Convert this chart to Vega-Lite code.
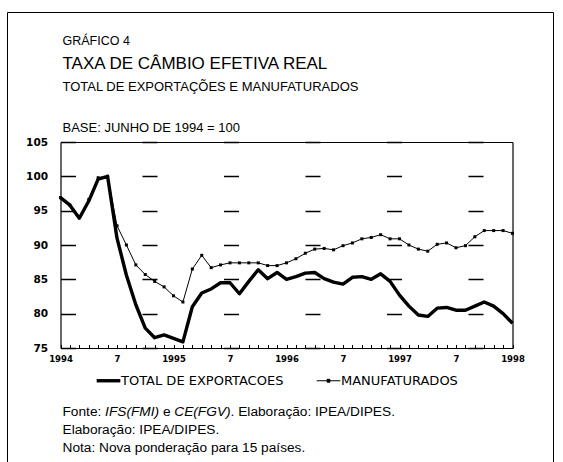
{
  "$schema": "https://vega.github.io/schema/vega-lite/v6.json",
  "width": 546,
  "height": 450,
  "autosize": "none",
  "padding": {"left": 7, "top": 12, "right": 10, "bottom": 0},
  "background": "white",
  "config": {
    "view": {"stroke": "black", "strokeWidth": 1},
    "axis": {"domainColor": "black", "tickColor": "black", "labelColor": "black", "titleColor": "black", "domainWidth": 1.2,
             "titleFont": "Liberation Sans", "titleFontWeight": "normal", "titleAngle": 0, "titleAlign": "left", "titleAnchor": "start", "titleBaseline": "alphabetic"}
  },
  "data": {"values": [
    {"mes": 0, "serie": "TOTAL DE EXPORTACOES", "valor": 96.9},
    {"mes": 1, "serie": "TOTAL DE EXPORTACOES", "valor": 95.8},
    {"mes": 2, "serie": "TOTAL DE EXPORTACOES", "valor": 93.9},
    {"mes": 3, "serie": "TOTAL DE EXPORTACOES", "valor": 96.4},
    {"mes": 4, "serie": "TOTAL DE EXPORTACOES", "valor": 99.6},
    {"mes": 5, "serie": "TOTAL DE EXPORTACOES", "valor": 100.0},
    {"mes": 6, "serie": "TOTAL DE EXPORTACOES", "valor": 91.0},
    {"mes": 7, "serie": "TOTAL DE EXPORTACOES", "valor": 85.6},
    {"mes": 8, "serie": "TOTAL DE EXPORTACOES", "valor": 81.3},
    {"mes": 9, "serie": "TOTAL DE EXPORTACOES", "valor": 77.9},
    {"mes": 10, "serie": "TOTAL DE EXPORTACOES", "valor": 76.5},
    {"mes": 11, "serie": "TOTAL DE EXPORTACOES", "valor": 76.9},
    {"mes": 12, "serie": "TOTAL DE EXPORTACOES", "valor": 76.4},
    {"mes": 13, "serie": "TOTAL DE EXPORTACOES", "valor": 75.9},
    {"mes": 14, "serie": "TOTAL DE EXPORTACOES", "valor": 81.0},
    {"mes": 15, "serie": "TOTAL DE EXPORTACOES", "valor": 83.0},
    {"mes": 16, "serie": "TOTAL DE EXPORTACOES", "valor": 83.6},
    {"mes": 17, "serie": "TOTAL DE EXPORTACOES", "valor": 84.5},
    {"mes": 18, "serie": "TOTAL DE EXPORTACOES", "valor": 84.5},
    {"mes": 19, "serie": "TOTAL DE EXPORTACOES", "valor": 82.9},
    {"mes": 20, "serie": "TOTAL DE EXPORTACOES", "valor": 84.7},
    {"mes": 21, "serie": "TOTAL DE EXPORTACOES", "valor": 86.4},
    {"mes": 22, "serie": "TOTAL DE EXPORTACOES", "valor": 85.1},
    {"mes": 23, "serie": "TOTAL DE EXPORTACOES", "valor": 86.0},
    {"mes": 24, "serie": "TOTAL DE EXPORTACOES", "valor": 85.0},
    {"mes": 25, "serie": "TOTAL DE EXPORTACOES", "valor": 85.4},
    {"mes": 26, "serie": "TOTAL DE EXPORTACOES", "valor": 85.9},
    {"mes": 27, "serie": "TOTAL DE EXPORTACOES", "valor": 86.0},
    {"mes": 28, "serie": "TOTAL DE EXPORTACOES", "valor": 85.1},
    {"mes": 29, "serie": "TOTAL DE EXPORTACOES", "valor": 84.6},
    {"mes": 30, "serie": "TOTAL DE EXPORTACOES", "valor": 84.3},
    {"mes": 31, "serie": "TOTAL DE EXPORTACOES", "valor": 85.3},
    {"mes": 32, "serie": "TOTAL DE EXPORTACOES", "valor": 85.4},
    {"mes": 33, "serie": "TOTAL DE EXPORTACOES", "valor": 85.0},
    {"mes": 34, "serie": "TOTAL DE EXPORTACOES", "valor": 85.8},
    {"mes": 35, "serie": "TOTAL DE EXPORTACOES", "valor": 84.7},
    {"mes": 36, "serie": "TOTAL DE EXPORTACOES", "valor": 82.7},
    {"mes": 37, "serie": "TOTAL DE EXPORTACOES", "valor": 81.1},
    {"mes": 38, "serie": "TOTAL DE EXPORTACOES", "valor": 79.8},
    {"mes": 39, "serie": "TOTAL DE EXPORTACOES", "valor": 79.6},
    {"mes": 40, "serie": "TOTAL DE EXPORTACOES", "valor": 80.8},
    {"mes": 41, "serie": "TOTAL DE EXPORTACOES", "valor": 80.9},
    {"mes": 42, "serie": "TOTAL DE EXPORTACOES", "valor": 80.5},
    {"mes": 43, "serie": "TOTAL DE EXPORTACOES", "valor": 80.5},
    {"mes": 44, "serie": "TOTAL DE EXPORTACOES", "valor": 81.1},
    {"mes": 45, "serie": "TOTAL DE EXPORTACOES", "valor": 81.7},
    {"mes": 46, "serie": "TOTAL DE EXPORTACOES", "valor": 81.1},
    {"mes": 47, "serie": "TOTAL DE EXPORTACOES", "valor": 80.0},
    {"mes": 48, "serie": "TOTAL DE EXPORTACOES", "valor": 78.6},
    {"mes": 0, "serie": "MANUFATURADOS", "valor": 96.9},
    {"mes": 1, "serie": "MANUFATURADOS", "valor": 95.8},
    {"mes": 2, "serie": "MANUFATURADOS", "valor": 94.1},
    {"mes": 3, "serie": "MANUFATURADOS", "valor": 96.6},
    {"mes": 4, "serie": "MANUFATURADOS", "valor": 99.8},
    {"mes": 5, "serie": "MANUFATURADOS", "valor": 100.0},
    {"mes": 6, "serie": "MANUFATURADOS", "valor": 92.8},
    {"mes": 7, "serie": "MANUFATURADOS", "valor": 90.0},
    {"mes": 8, "serie": "MANUFATURADOS", "valor": 87.1},
    {"mes": 9, "serie": "MANUFATURADOS", "valor": 85.7},
    {"mes": 10, "serie": "MANUFATURADOS", "valor": 84.7},
    {"mes": 11, "serie": "MANUFATURADOS", "valor": 83.9},
    {"mes": 12, "serie": "MANUFATURADOS", "valor": 82.6},
    {"mes": 13, "serie": "MANUFATURADOS", "valor": 81.7},
    {"mes": 14, "serie": "MANUFATURADOS", "valor": 86.5},
    {"mes": 15, "serie": "MANUFATURADOS", "valor": 88.5},
    {"mes": 16, "serie": "MANUFATURADOS", "valor": 86.7},
    {"mes": 17, "serie": "MANUFATURADOS", "valor": 87.1},
    {"mes": 18, "serie": "MANUFATURADOS", "valor": 87.4},
    {"mes": 19, "serie": "MANUFATURADOS", "valor": 87.4},
    {"mes": 20, "serie": "MANUFATURADOS", "valor": 87.4},
    {"mes": 21, "serie": "MANUFATURADOS", "valor": 87.4},
    {"mes": 22, "serie": "MANUFATURADOS", "valor": 87.0},
    {"mes": 23, "serie": "MANUFATURADOS", "valor": 87.0},
    {"mes": 24, "serie": "MANUFATURADOS", "valor": 87.4},
    {"mes": 25, "serie": "MANUFATURADOS", "valor": 88.0},
    {"mes": 26, "serie": "MANUFATURADOS", "valor": 88.8},
    {"mes": 27, "serie": "MANUFATURADOS", "valor": 89.4},
    {"mes": 28, "serie": "MANUFATURADOS", "valor": 89.5},
    {"mes": 29, "serie": "MANUFATURADOS", "valor": 89.3},
    {"mes": 30, "serie": "MANUFATURADOS", "valor": 89.9},
    {"mes": 31, "serie": "MANUFATURADOS", "valor": 90.3},
    {"mes": 32, "serie": "MANUFATURADOS", "valor": 90.9},
    {"mes": 33, "serie": "MANUFATURADOS", "valor": 91.1},
    {"mes": 34, "serie": "MANUFATURADOS", "valor": 91.5},
    {"mes": 35, "serie": "MANUFATURADOS", "valor": 90.9},
    {"mes": 36, "serie": "MANUFATURADOS", "valor": 90.9},
    {"mes": 37, "serie": "MANUFATURADOS", "valor": 90.0},
    {"mes": 38, "serie": "MANUFATURADOS", "valor": 89.4},
    {"mes": 39, "serie": "MANUFATURADOS", "valor": 89.1},
    {"mes": 40, "serie": "MANUFATURADOS", "valor": 90.1},
    {"mes": 41, "serie": "MANUFATURADOS", "valor": 90.3},
    {"mes": 42, "serie": "MANUFATURADOS", "valor": 89.6},
    {"mes": 43, "serie": "MANUFATURADOS", "valor": 89.9},
    {"mes": 44, "serie": "MANUFATURADOS", "valor": 91.2},
    {"mes": 45, "serie": "MANUFATURADOS", "valor": 92.1},
    {"mes": 46, "serie": "MANUFATURADOS", "valor": 92.1},
    {"mes": 47, "serie": "MANUFATURADOS", "valor": 92.1},
    {"mes": 48, "serie": "MANUFATURADOS", "valor": 91.7}
  ]},
  "layer": [
    {
      "transform": [{"filter": "datum.serie === 'TOTAL DE EXPORTACOES'"}],
      "mark": {"type": "line", "strokeWidth": 3.4, "strokeJoin": "round"},
      "encoding": {
        "x": {
          "field": "mes", "type": "quantitative",
          "scale": {"domain": [0, 48], "range": [53.5, 505.5], "nice": false, "zero": false},
          "axis": {
            "orient": "bottom", "offset": -114,
            "values": [0, 6, 12, 18, 24, 30, 36, 42, 48],
            "labelExpr": "datum.value % 12 === 0 ? toString(1994 + datum.value / 12) : '7'",
            "labelFlush": false, "labelOverlap": false,
            "labelFont": "DejaVu Sans", "labelFontWeight": "bold", "labelFontSize": 8.5,
            "labelPadding": 6,
            "ticks": false, "tickSize": 0,
            "grid": false,
            "title": ["Fonte:", "Elaboração: IPEA/DIPES.", "Nota: Nova ponderação para 15 países."],
            "titleX": 55, "titleY": 67, "titleFontSize": 13.7, "titleLineHeight": 18
          }
        },
        "y": {
          "field": "valor", "type": "quantitative",
          "scale": {"domain": [75, 105], "range": [336, 130], "nice": false, "zero": false},
          "axis": {
            "orient": "left", "offset": -53.5,
            "values": [75, 80, 85, 90, 95, 100, 105],
            "labelFont": "DejaVu Sans", "labelFontWeight": "bold", "labelFontSize": 10.5,
            "labelPadding": 13, "ticks": false,
            "grid": true, "gridColor": "black", "gridWidth": 1.3, "gridDash": [15, 66.5], "gridOpacity": 1,
            "title": "TOTAL DE EXPORTAÇÕES E MANUFATURADOS",
            "titleX": 1.5, "titleY": 78.5, "titleFontSize": 13
          }
        },
        "stroke": {
          "field": "serie", "type": "nominal",
          "scale": {"domain": ["TOTAL DE EXPORTACOES", "MANUFATURADOS"], "range": ["black", "black"]},
          "legend": {
            "orient": "none", "legendX": 95, "legendY": 362, "direction": "horizontal", "title": null,
            "symbolType": "stroke", "symbolSize": 560, "symbolStrokeColor": "black",
            "labelFont": "DejaVu Sans", "labelFontSize": 13, "labelColor": "black", "labelOffset": 6, "labelLimit": 400,
            "columnPadding": 30,
            "encode": {
              "symbols": {
                "update": {
                  "strokeWidth": {"signal": "datum.value === 'MANUFATURADOS' ? 1 : 3.4"},
                  "shape": {"signal": "datum.value === 'MANUFATURADOS' ? 'M-1,0H1M-0.12,-0.12H0.12V0.12H-0.12Z' : 'stroke'"},
                  "fill": {"signal": "datum.value === 'MANUFATURADOS' ? 'black' : 'transparent'"}
                }
              }
            }
          }
        }
      }
    },
    {
      "transform": [{"filter": "datum.serie === 'MANUFATURADOS'"}],
      "mark": {"type": "line", "strokeWidth": 1},
      "encoding": {
        "x": {
          "field": "mes", "type": "quantitative",
          "axis": {
            "orient": "top", "offset": -336,
            "values": [0,1,2,3,4,5,6,7,8,9,10,11,12,13,14,15,16,17,18,19,20,21,22,23,24,25,26,27,28,29,30,31,32,33,34,35,36,37,38,39,40,41,42,43,44,45,46,47,48],
            "domain": false, "labels": false, "ticks": true, "tickSize": 3.5, "tickWidth": 1, "grid": false,
            "title": "IFS(FMI)", "titleX": 97.6, "titleY": 67, "titleFontSize": 13.7, "titleFontStyle": "italic"
          }
        },
        "y": {
          "field": "valor", "type": "quantitative",
          "axis": {
            "orient": "left", "offset": -53.5, "domain": false, "labels": false, "ticks": false, "grid": false,
            "title": "BASE: JUNHO DE 1994 = 100",
            "titleX": 1.5, "titleY": 119, "titleFontSize": 13
          }
        },
        "stroke": {"field": "serie", "type": "nominal"}
      }
    },
    {
      "transform": [{"filter": "datum.serie === 'MANUFATURADOS'"}],
      "mark": {"type": "point", "shape": "square", "filled": true, "size": 9, "color": "black", "opacity": 1},
      "encoding": {
        "x": {
          "field": "mes", "type": "quantitative",
          "axis": {
            "orient": "top", "offset": -130, "labels": false, "ticks": false, "grid": false,
            "title": "GRÁFICO 4", "titleX": 55, "titleY": -98, "titleFontSize": 12.5
          }
        },
        "y": {
          "field": "valor", "type": "quantitative",
          "axis": {
            "orient": "right", "offset": -40.5, "labels": false, "ticks": false, "grid": false,
            "title": "TAXA DE CÂMBIO EFETIVA REAL", "titleX": -450.5, "titleY": 56.5, "titleFontSize": 17
          }
        }
      }
    },
    {
      "transform": [{"filter": "datum.serie === 'MANUFATURADOS'"}],
      "mark": {"type": "point", "opacity": 0},
      "encoding": {
        "x": {
          "field": "mes", "type": "quantitative",
          "axis": {
            "orient": "bottom", "offset": -114, "domain": false, "labels": false, "ticks": false, "grid": false,
            "title": "e", "titleX": 155.4, "titleY": 67, "titleFontSize": 13.7
          }
        },
        "y": {
          "field": "valor", "type": "quantitative",
          "axis": {
            "orient": "left", "offset": -53.5, "domain": false, "labels": false, "ticks": false, "grid": false,
            "title": "CE(FGV)", "titleX": 113.3, "titleY": 403, "titleFontSize": 13.7, "titleFontStyle": "italic"
          }
        }
      }
    },
    {
      "transform": [{"filter": "datum.serie === 'MANUFATURADOS'"}],
      "mark": {"type": "point", "opacity": 0},
      "encoding": {
        "x": {
          "field": "mes", "type": "quantitative",
          "axis": {
            "orient": "bottom", "offset": -114, "domain": false, "labels": false, "ticks": false, "grid": false,
            "title": ". Elaboração: IPEA/DIPES.", "titleX": 223.1, "titleY": 67, "titleFontSize": 13.7
          }
        },
        "y": {"field": "valor", "type": "quantitative", "axis": null}
      }
    }
  ],
  "resolve": {"axis": {"x": "independent", "y": "independent"}}
}
